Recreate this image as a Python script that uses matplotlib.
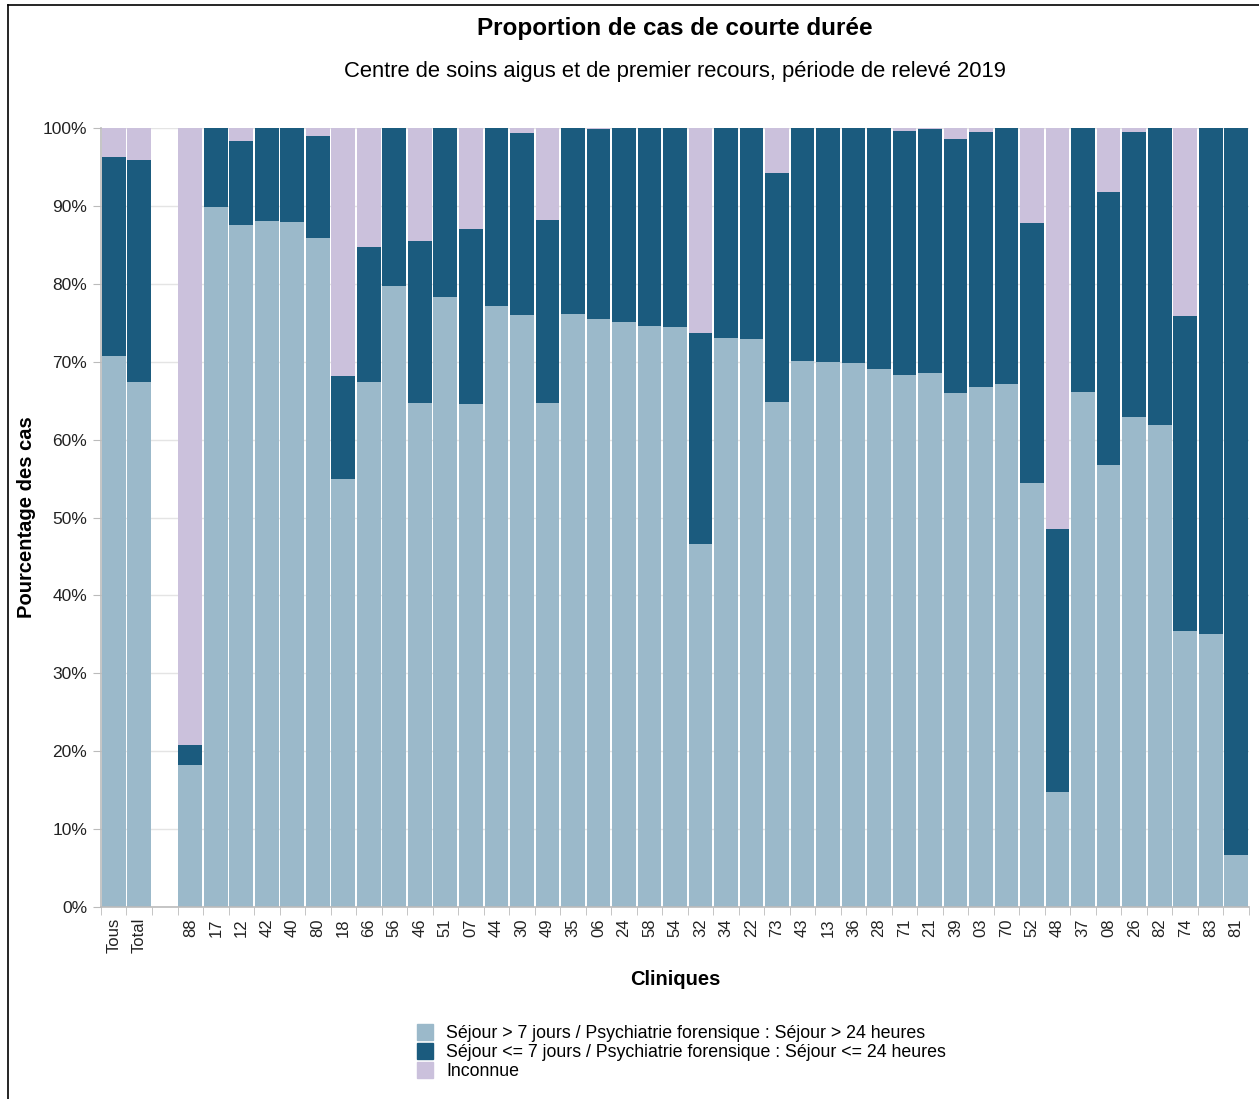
import numpy as np
import matplotlib
matplotlib.use("Agg")
import matplotlib.pyplot as plt
from matplotlib.patches import Patch
from matplotlib.lines import Line2D

plt.rcParams['font.family'] = ['Liberation Sans', 'DejaVu Sans']

# categories ('' = empty slot between the totals and the clinics)
categories = ['Tous', 'Total', '', '88', '17', '12', '42', '40', '80', '18', '66', '56',
              '46', '51', '07', '44', '30', '49', '35', '06', '24', '58', '54', '32',
              '34', '22', '73', '43', '13', '36', '28', '71', '21', '39', '03', '70',
              '52', '48', '37', '08', '26', '82', '74', '83', '81']

# % stay > 7 days (bottom)
long_stay = [70.7, 67.4, 0, 18.2, 89.9, 87.5, 88.1, 87.9, 85.9, 54.9, 67.4, 79.7,
             64.7, 78.3, 64.6, 77.2, 76.0, 64.7, 76.1, 75.5, 75.1, 74.6, 74.5, 46.6,
             73.0, 72.9, 64.8, 70.1, 70.0, 69.8, 69.1, 68.3, 68.5, 66.0, 66.8, 67.1,
             54.4, 14.8, 66.1, 56.7, 62.9, 61.9, 35.4, 35.0, 6.7]
# cumulative top of the short stay part (long + short)
short_top = [96.3, 95.9, 0, 20.8, 100, 98.3, 100, 100, 99.0, 68.2, 84.7, 100,
             85.5, 100, 87.0, 100, 99.4, 88.2, 100, 99.9, 100, 100, 100, 73.7,
             100, 100, 94.2, 100, 100, 100, 100, 99.6, 99.9, 98.6, 99.5, 100,
             87.8, 48.5, 100, 91.8, 99.5, 100, 75.9, 100, 100]

long_stay = np.array(long_stay)
short_stay = np.array(short_top) - long_stay
unknown = np.where(np.array(short_top) > 0, 100 - np.array(short_top), 0)

c_long = '#9bb9ca'
c_short = '#1b5b7e'
c_unk = '#cbc1dc'

fig = plt.figure(figsize=(12.59, 10.99), dpi=100)
ax = fig.add_axes([0.0802, 0.1747, 0.9118, 0.7088])

x = np.arange(len(categories))
w = 0.93
ax.bar(x, long_stay, w, color=c_long, zorder=2)
ax.bar(x, short_stay, w, bottom=long_stay, color=c_short, zorder=2)
ax.bar(x, unknown, w, bottom=long_stay + short_stay, color=c_unk, zorder=2)

ax.set_xlim(-0.5, len(categories) - 0.5)
ax.set_ylim(0, 100)
ax.set_yticks(np.arange(0, 101, 10))
ax.set_yticklabels([f'{v}%' for v in range(0, 101, 10)], fontsize=12.5, color='#222222')
ax.yaxis.grid(True, color='#e4e4e4', linewidth=1, zorder=0)

ax.set_xticks(x)
ax.set_xticklabels(categories, rotation=90, fontsize=12, color='#222222')
ax.tick_params(axis='x', which='major', length=0, pad=8)
ax.set_xticks(np.arange(-0.5, len(categories), 1), minor=True)
ax.tick_params(axis='x', which='minor', length=6, color='#bbbbbb')
ax.tick_params(axis='y', length=6, color='#bbbbbb', pad=4)

for s in ['top', 'right']:
    ax.spines[s].set_visible(False)
for s in ['left', 'bottom']:
    ax.spines[s].set_color('#bbbbbb')
    ax.spines[s].set_linewidth(1.2)

ax.set_ylabel('Pourcentage des cas', fontsize=14.5, fontweight='bold', labelpad=5)
ax.set_xlabel('Cliniques', fontsize=14.5, fontweight='bold', labelpad=12)

fig.text(0.536, 1 - 28 / 1099, 'Proportion de cas de courte durée', ha='center', va='center',
         fontsize=17.5, fontweight='bold')
fig.text(0.536, 1 - 72 / 1099, 'Centre de soins aigus et de premier recours, période de relevé 2019',
         ha='center', va='center', fontsize=15.8)

handles = [Patch(color=c_long), Patch(color=c_short), Patch(color=c_unk)]
labels = ['Séjour > 7 jours / Psychiatrie forensique : Séjour > 24 heures',
          'Séjour <= 7 jours / Psychiatrie forensique : Séjour <= 24 heures',
          'Inconnue']
fig.legend(handles, labels, loc='upper left', bbox_to_anchor=(0.3245, 1 - 1015 / 1099),
           frameon=False, fontsize=12.8, handlelength=0.85, handleheight=1.0,
           handletextpad=0.75, labelspacing=0.05, borderpad=0)

# outer frame (left and top)
fig.add_artist(Line2D([8 / 1259, 8 / 1259], [0, 1 - 5 / 1099], color='black', lw=1.2,
                      transform=fig.transFigure))
fig.add_artist(Line2D([8 / 1259, 1], [1 - 5 / 1099, 1 - 5 / 1099], color='black', lw=1.2,
                      transform=fig.transFigure))

fig.savefig('out.png', dpi=100)
